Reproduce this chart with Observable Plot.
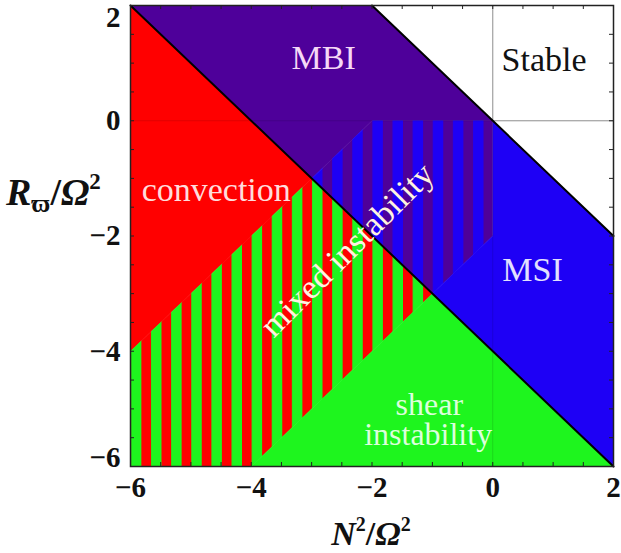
<!DOCTYPE html>
<html><head><meta charset="utf-8">
<script src="https://cdn.jsdelivr.net/npm/d3@7"></script>
<script src="https://cdn.jsdelivr.net/npm/@observablehq/plot@0.6"></script>
<style>body{margin:0;background:#fff}#chart svg{display:block}</style>
</head><body><div id="chart"></div>
<script>
// Axis ticks (N^2/Omega^2 and R_varpi/Omega^2)
const xTicks = [-6, -4, -2, 0, 2];
const yTicksInner = [-4, -2, 0];
const yTickTop = [2];
const yTickBottom = [-6];
const minorTicks = [-6, -5.5, -5, -4.5, -4, -3.5, -3, -2.5, -2, -1.5, -1, -0.5, 0, 0.5, 1, 1.5, 2];

// Region polygons, vertices as [N^2/Omega^2, R/Omega^2]
const convection = [[-6, 2], [-3, -1], [-6, -4]];
const mixedConvShear = [[-6, -4], [-3, -1], [-1, -3], [-4, -6], [-6, -6]];
const shear = [[-4, -6], [-1, -3], [2, -6]];
const mbi = [[-6, 2], [-2, 2], [0, 0], [-2, 0], [-3, -1]];
const mixedMbiMsi = [[-3, -1], [-2, 0], [0, 0], [0, -2], [-1, -3]];
const msi = [[0, 0], [2, -2], [2, -6], [-1, -3], [0, -2]];
const boundaryA = [[-6, 2], [2, -6]];
const boundaryB = [[-2, 2], [2, -2]];

// Stripe pattern of the mixed regions (in N^2 units)
const stripeStart = -5.82, stripePeriod = 1 / 3, stripeWidth = 0.16;

// Region labels
const labelText = ["MBI", "Stable", "convection", "MSI"];
const labelX = [-2.8, 0.85, -4.58, 0.66];
const labelY = [1.08, 1.05, -1.21, -2.6];
const shearText = ["shear", "instability"];
const shearX = [-1.05, -1.07];
const shearY = [-4.92, -5.45];
const mixedLabel = {text: "mixed instability", x: -2.41, y: -2.24};

const RED = "#ff0000", GREEN = "#1ef51e", PURPLE = "#4e009a", BLUE = "#1e00f5";
const labelColors = ["#f6d8f6", "#111111", "#ffdcdc", "#e2e0ff"];

const W = 621, H = 553, ML = 130, MR = 8, MT = 5, MB = 87;
const innerW = W - ML - MR, innerH = H - MT - MB;

const poly = (data, fill) => Plot.line(data, {fill, stroke: fill, strokeWidth: 0.6});
const yLabel = (data, dy) => Plot.text(data, {y: d => d, text: d => d < 0 ? "\u2212" + (-d) : String(d), frameAnchor: "left", textAnchor: "end", dx: -10, dy, fontSize: 29, fontWeight: "bold", fill: "#111"});

const plot = Plot.plot({
  width: W, height: H,
  marginLeft: ML, marginRight: MR, marginTop: MT, marginBottom: MB,
  x: {domain: [-6, 2], ticks: xTicks, tickSize: 0, tickPadding: 10, label: null},
  y: {domain: [-6, 2], axis: null},
  style: {fontFamily: "'Liberation Serif', 'DejaVu Serif', serif", fontSize: "29px", fontWeight: "bold", background: "white", color: "#111"},
  marks: [
    poly(convection, RED),
    poly(mixedConvShear, "url(#hatchRG)"),
    poly(shear, GREEN),
    poly(mbi, PURPLE),
    poly(mixedMbiMsi, "url(#hatchPB)"),
    poly(msi, BLUE),
    Plot.ruleX([0], {stroke: "#000", strokeOpacity: 0.12}),
    Plot.ruleY([0], {stroke: "#000", strokeOpacity: 0.12}),
    Plot.ruleX([0], {y1: 0, y2: 2, stroke: "#999"}),
    Plot.ruleY([0], {x1: 0, x2: 2, stroke: "#999"}),
    Plot.line(boundaryA, {stroke: "black", strokeWidth: 2}),
    Plot.line(boundaryB, {stroke: "black", strokeWidth: 2}),
    ...labelText.map((t, i) => Plot.text([t], {x: () => labelX[i], y: () => labelY[i], text: d => d, fill: labelColors[i], fontSize: 34, fontWeight: "normal"})),
    Plot.text(shearText, {x: (d, i) => shearX[i], y: (d, i) => shearY[i], text: d => d, fill: "#dcffdc", fontSize: 32, fontWeight: "normal"}),
    Plot.text([mixedLabel], {x: "x", y: "y", text: "text", rotate: -45, fill: "#fff3e0", fontSize: 34, fontWeight: "normal"}),
    Plot.frame({stroke: "#222", strokeWidth: 1.5}),
    // inward frame ticks on all four sides
    Plot.tickX(minorTicks, {x: d => d, stroke: "#222", insetTop: innerH - 4}),
    Plot.tickX(minorTicks, {x: d => d, stroke: "#222", insetBottom: innerH - 4}),
    Plot.tickY(minorTicks, {y: d => d, stroke: "#222", insetRight: innerW - 4}),
    Plot.tickY(minorTicks, {y: d => d, stroke: "#222", insetLeft: innerW - 4}),
    // y tick labels (end labels nudged inside, as in the reference)
    yLabel(yTicksInner, 0),
    yLabel(yTickTop, 12),
    yLabel(yTickBottom, -9)
  ]
});

// stripe patterns aligned with the x scale
const xs = plot.scale("x");
const px0 = xs.apply(stripeStart);
const pp = xs.apply(stripeStart + stripePeriod) - px0;
const pw = xs.apply(stripeStart + stripeWidth) - px0;
const defs = d3.select(plot).insert("defs", ":first-child");
function pattern(id, c1, c2) {
  const pt = defs.append("pattern").attr("id", id).attr("patternUnits", "userSpaceOnUse")
    .attr("x", px0).attr("y", 0).attr("width", pp).attr("height", 10);
  pt.append("rect").attr("width", pp).attr("height", 10).attr("fill", c2);
  pt.append("rect").attr("width", pw).attr("height", 10).attr("fill", c1);
}
pattern("hatchRG", RED, GREEN);
pattern("hatchPB", PURPLE, BLUE);

// axis titles
const svg = d3.select(plot);
const xl = svg.append("text").attr("x", 371).attr("y", 545).attr("text-anchor", "middle")
  .attr("font-size", 34).attr("font-weight", "bold").attr("fill", "#111").attr("font-family", "'Liberation Serif', serif");
xl.append("tspan").attr("font-style", "italic").text("N");
xl.append("tspan").attr("font-size", 20).attr("dy", -14).text("2");
xl.append("tspan").attr("dy", 14).text("/");
xl.append("tspan").attr("font-style", "italic").text("Ω");
xl.append("tspan").attr("font-size", 20).attr("dy", -14).text("2");

const yl = svg.append("text").attr("x", 6).attr("y", 205).attr("text-anchor", "start")
  .attr("font-size", 38).attr("font-weight", "bold").attr("fill", "#111").attr("font-family", "'Liberation Serif', serif");
yl.append("tspan").attr("font-style", "italic").text("R");
yl.append("tspan").attr("font-size", 26).attr("dy", 7).text("ϖ");
yl.append("tspan").attr("dy", -7).text("/");
yl.append("tspan").attr("font-style", "italic").text("Ω");
yl.append("tspan").attr("font-size", 23).attr("dy", -16).text("2");

document.getElementById("chart").appendChild(plot);
</script>
</body></html>
